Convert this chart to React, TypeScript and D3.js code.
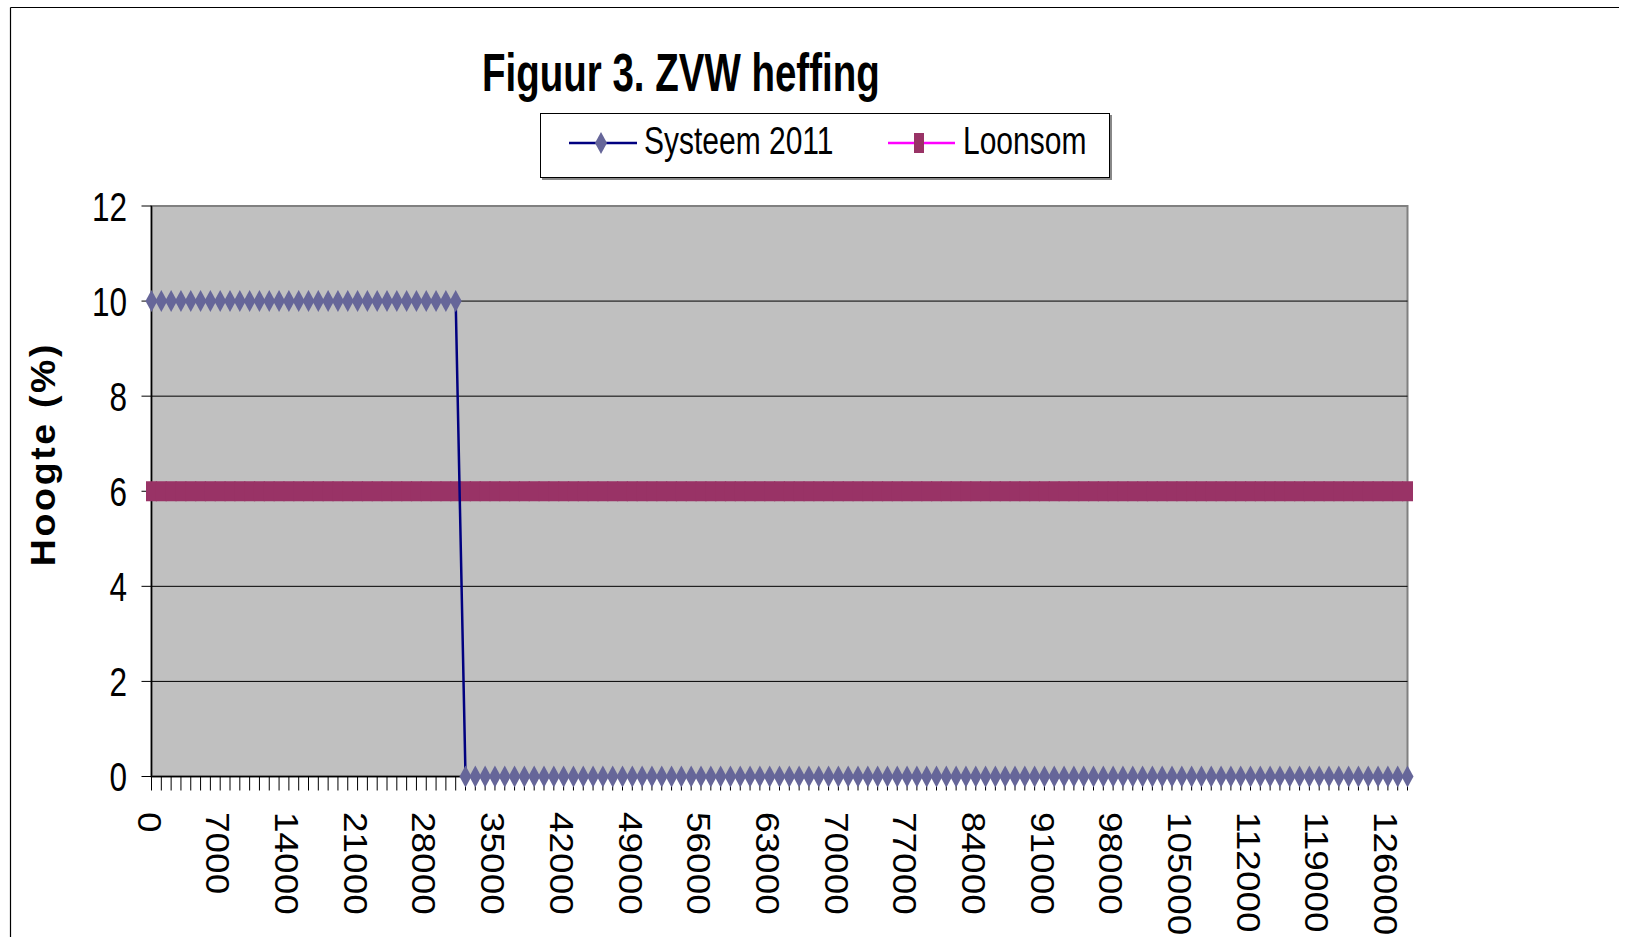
import * as d3 from "d3";

const categories = [
  0, 1000, 2000, 3000, 4000, 5000, 6000, 7000, 8000, 9000,
  10000, 11000, 12000, 13000, 14000, 15000, 16000, 17000, 18000, 19000,
  20000, 21000, 22000, 23000, 24000, 25000, 26000, 27000, 28000, 29000,
  30000, 31000, 32000, 33000, 34000, 35000, 36000, 37000, 38000, 39000,
  40000, 41000, 42000, 43000, 44000, 45000, 46000, 47000, 48000, 49000,
  50000, 51000, 52000, 53000, 54000, 55000, 56000, 57000, 58000, 59000,
  60000, 61000, 62000, 63000, 64000, 65000, 66000, 67000, 68000, 69000,
  70000, 71000, 72000, 73000, 74000, 75000, 76000, 77000, 78000, 79000,
  80000, 81000, 82000, 83000, 84000, 85000, 86000, 87000, 88000, 89000,
  90000, 91000, 92000, 93000, 94000, 95000, 96000, 97000, 98000, 99000,
  100000, 101000, 102000, 103000, 104000, 105000, 106000, 107000, 108000, 109000,
  110000, 111000, 112000, 113000, 114000, 115000, 116000, 117000, 118000, 119000,
  120000, 121000, 122000, 123000, 124000, 125000, 126000, 127000, 128000,
];

const systeem2011 = [
  10, 10, 10, 10, 10, 10, 10, 10, 10, 10,
  10, 10, 10, 10, 10, 10, 10, 10, 10, 10,
  10, 10, 10, 10, 10, 10, 10, 10, 10, 10,
  10, 10, 0, 0, 0, 0, 0, 0, 0, 0,
  0, 0, 0, 0, 0, 0, 0, 0, 0, 0,
  0, 0, 0, 0, 0, 0, 0, 0, 0, 0,
  0, 0, 0, 0, 0, 0, 0, 0, 0, 0,
  0, 0, 0, 0, 0, 0, 0, 0, 0, 0,
  0, 0, 0, 0, 0, 0, 0, 0, 0, 0,
  0, 0, 0, 0, 0, 0, 0, 0, 0, 0,
  0, 0, 0, 0, 0, 0, 0, 0, 0, 0,
  0, 0, 0, 0, 0, 0, 0, 0, 0, 0,
  0, 0, 0, 0, 0, 0, 0, 0, 0,
];

const loonsom = [
  6, 6, 6, 6, 6, 6, 6, 6, 6, 6,
  6, 6, 6, 6, 6, 6, 6, 6, 6, 6,
  6, 6, 6, 6, 6, 6, 6, 6, 6, 6,
  6, 6, 6, 6, 6, 6, 6, 6, 6, 6,
  6, 6, 6, 6, 6, 6, 6, 6, 6, 6,
  6, 6, 6, 6, 6, 6, 6, 6, 6, 6,
  6, 6, 6, 6, 6, 6, 6, 6, 6, 6,
  6, 6, 6, 6, 6, 6, 6, 6, 6, 6,
  6, 6, 6, 6, 6, 6, 6, 6, 6, 6,
  6, 6, 6, 6, 6, 6, 6, 6, 6, 6,
  6, 6, 6, 6, 6, 6, 6, 6, 6, 6,
  6, 6, 6, 6, 6, 6, 6, 6, 6, 6,
  6, 6, 6, 6, 6, 6, 6, 6, 6,
];

const yTicks = [0, 2, 4, 6, 8, 10, 12];
const xLabelEvery = 7;

const font = "'Liberation Sans', Arial, sans-serif";

// diamond marker; the original picture is stretched vertically
const diamond = (w: number, h: number) =>
  `M0,${-h / 2}L${w / 2},0L0,${h / 2}L${-w / 2},0Z`;

export default function App() {
  const width = 1632;
  const height = 937;
  const left = 151.5;
  const right = 1407.5;
  const top = 206;
  const bottom = 776.5;

  const x = d3.scalePoint<number>().domain(categories).range([left, right]);
  const y = d3.scaleLinear().domain([0, 12]).range([bottom, top]);

  const line = d3
    .line<number>()
    .x((_, i) => x(categories[i]) as number)
    .y((d) => y(d));

  return (
    <div style={{ position: "fixed", left: 0, top: 0 }}>
      <svg width={width} height={height} viewBox={`0 0 ${width} ${height}`}>
        <rect x={0} y={0} width={width} height={height} fill="#fff" />
        {/* outer frame: top and left edges only are in view */}
        <line x1={10.5} x2={1619} y1={7.5} y2={7.5} stroke="#000" strokeWidth={1.2} />
        <line x1={10.5} x2={10.5} y1={7.5} y2={height} stroke="#000" strokeWidth={1.2} />

        {/* title */}
        <text
          transform="translate(482,90.7) scale(1,1.41)"
          fontFamily={font}
          fontWeight="bold"
          fontSize={38.5}
          fill="#000"
        >
          Figuur 3. ZVW heffing
        </text>

        {/* legend */}
        <rect x={542} y={115} width={570} height={65} fill="#888" />
        <rect x={540.5} y={113.5} width={569} height={64} fill="#fff" stroke="#000" strokeWidth={1} />
        <line x1={569} x2={637} y1={143} y2={143} stroke="#000080" strokeWidth={2.5} />
        <path d={diamond(12, 22)} transform="translate(601,143)" fill="#666699" />
        <text transform="translate(644,154) scale(1,1.27)" fontFamily={font} fontSize={30}>
          Systeem 2011
        </text>
        <line x1={888} x2={955} y1={143} y2={143} stroke="#ff00ff" strokeWidth={2.5} />
        <rect x={914} y={133} width={10} height={20} fill="#993366" />
        <text transform="translate(963,154) scale(1,1.27)" fontFamily={font} fontSize={30}>
          Loonsom
        </text>

        {/* plot area */}
        <rect x={left} y={top} width={right - left} height={bottom - top} fill="#c0c0c0" stroke="#808080" strokeWidth={2} />
        {yTicks.filter((t) => t > 0 && t < 12).map((t) => (
          <line key={t} x1={left} x2={right} y1={y(t)} y2={y(t)} stroke="#000" strokeWidth={1} />
        ))}

        {/* y axis */}
        <line x1={left} x2={left} y1={top} y2={bottom} stroke="#000" strokeWidth={1.5} />
        {yTicks.map((t) => (
          <g key={t}>
            <line x1={left - 10} x2={left} y1={y(t)} y2={y(t)} stroke="#000" strokeWidth={1} />
            <text
              transform={`translate(127,${y(t) + 14.5}) scale(1,1.29)`}
              textAnchor="end"
              fontFamily={font}
              fontSize={31.5}
            >
              {t}
            </text>
          </g>
        ))}
        <text
          transform="translate(55,454) rotate(-90) scale(1.07,1)"
          textAnchor="middle"
          fontFamily={font}
          fontWeight="bold"
          fontSize={35}
          letterSpacing={2.5}
        >
          Hoogte (%)
        </text>

        {/* x axis */}
        <line x1={left} x2={right} y1={bottom} y2={bottom} stroke="#000" strokeWidth={1.5} />
        {categories.map((c) => (
          <line key={c} x1={x(c)} x2={x(c)} y1={bottom} y2={bottom + 14} stroke="#000" strokeWidth={1} />
        ))}
        {categories.filter((_, i) => i % xLabelEvery === 0).map((c) => (
          <text
            key={c}
            transform={`translate(${(x(c) as number) - 2},812) rotate(90) scale(1.12,1)`}
            dominantBaseline="central"
            fontFamily={font}
            fontSize={33}
          >
            {c}
          </text>
        ))}

        {/* Loonsom */}
        <path d={line(loonsom) ?? ""} fill="none" stroke="#ff00ff" strokeWidth={2.5} />
        {loonsom.map((v, i) => (
          <rect
            key={i}
            x={(x(categories[i]) as number) - 5.5}
            y={y(v) - 10}
            width={11}
            height={20}
            fill="#993366"
          />
        ))}

        {/* Systeem 2011 */}
        <path d={line(systeem2011) ?? ""} fill="none" stroke="#000080" strokeWidth={2.5} />
        {systeem2011.map((v, i) => (
          <path
            key={i}
            d={diamond(12, 22)}
            transform={`translate(${x(categories[i])},${y(v)})`}
            fill="#666699"
          />
        ))}
      </svg>
    </div>
  );
}
